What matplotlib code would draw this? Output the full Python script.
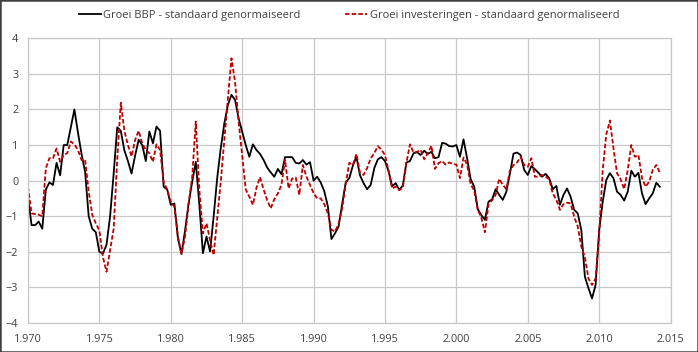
import numpy as np
import matplotlib
matplotlib.use('Agg')
import matplotlib.pyplot as plt
from matplotlib.ticker import FuncFormatter, MultipleLocator
from matplotlib.patches import Rectangle

# ---- data: quarterly, 1970Q1 .. 2014Q2 ----
start_year = 1970
gdp = [
    -0.45, -1.25, -1.25, -1.15,   # 1970
    -1.35, -0.25, -0.05, -0.12,   # 1971
    0.50, 0.15, 1.00, 1.00,       # 1972
    1.50, 2.00, 1.35, 0.75,       # 1973
    0.25, -1.00, -1.35, -1.45,    # 1974
    -2.00, -2.05, -1.80, -1.00,   # 1975
    0.20, 1.50, 1.40, 0.85,       # 1976
    0.55, 0.20, 0.70, 1.15,       # 1977
    1.00, 0.55, 1.38, 1.05,       # 1978
    1.52, 1.40, -0.17, -0.25,     # 1979
    -0.68, -0.64, -1.62, -2.06,   # 1980
    -1.40, -0.64, -0.03, 0.53,    # 1981
    -0.68, -2.04, -1.57, -1.99,   # 1982
    -1.01, 0.07, 0.91, 1.61,      # 1983
    2.13, 2.41, 2.27, 1.75,       # 1984
    1.38, 1.00, 0.67, 1.02,       # 1985
    0.86, 0.75, 0.58, 0.37,       # 1986
    0.23, 0.11, 0.33, 0.18,       # 1987
    0.66, 0.66, 0.66, 0.50,       # 1988
    0.48, 0.58, 0.45, 0.52,       # 1989
    0.00, 0.11, -0.05, -0.30,     # 1990
    -0.72, -1.64, -1.48, -1.29,   # 1991
    -0.66, -0.05, 0.07, 0.42,     # 1992
    0.67, 0.15, -0.07, -0.24,     # 1993
    -0.12, 0.35, 0.60, 0.66,      # 1994
    0.55, 0.27, -0.16, -0.07,     # 1995
    -0.26, -0.14, 0.51, 0.55,     # 1996
    0.77, 0.80, 0.72, 0.84,       # 1997
    0.75, 0.81, 0.63, 0.66,       # 1998
    1.06, 1.04, 0.97, 0.96,       # 1999
    1.00, 0.67, 1.16, 0.63,       # 2000
    0.04, -0.17, -0.80, -0.97,    # 2001
    -1.10, -0.59, -0.53, -0.24,   # 2002
    -0.40, -0.54, -0.31, 0.20,    # 2003
    0.76, 0.79, 0.72, 0.30,       # 2004
    0.16, 0.41, 0.32, 0.22,       # 2005
    0.11, 0.19, 0.07, -0.24,      # 2006
    -0.15, -0.68, -0.40, -0.22,   # 2007
    -0.45, -0.82, -0.92, -1.39,   # 2008
    -2.70, -3.02, -3.31, -2.93,   # 2009
    -1.39, -0.59, 0.02, 0.21,     # 2010
    0.07, -0.31, -0.40, -0.56,    # 2011
    -0.31, 0.28, 0.11, 0.22,      # 2012
    -0.36, -0.66, -0.50, -0.36,   # 2013
    -0.06, -0.17,                 # 2014
]
inv = [
    -0.17, -0.92, -0.94, -0.96,   # 1970
    -1.00, 0.35, 0.63, 0.63,      # 1971
    0.90, 0.53, 0.72, 0.77,       # 1972
    1.10, 1.02, 0.86, 0.58,       # 1973
    0.58, -0.30, -0.96, -1.20,    # 1974
    -1.40, -2.15, -2.56, -1.95,   # 1975
    -1.35, 0.60, 2.19, 1.40,      # 1976
    1.00, 0.68, 1.14, 1.40,       # 1977
    1.05, 0.86, 0.77, 0.53,       # 1978
    1.02, 0.86, -0.03, -0.26,     # 1979
    -0.59, -0.73, -1.57, -2.06,   # 1980
    -1.57, -0.64, 0.11, 1.66,     # 1981
    -0.26, -1.48, -1.20, -1.67,   # 1982
    -2.09, -1.05, -0.03, 1.14,    # 1983
    2.31, 3.44, 2.78, 1.66,       # 1984
    0.70, -0.25, -0.45, -0.68,    # 1985
    -0.20, 0.10, -0.25, -0.55,    # 1986
    -0.78, -0.52, -0.36, -0.12,   # 1987
    0.58, -0.22, 0.06, 0.09,      # 1988
    -0.40, 0.44, 0.11, -0.12,     # 1989
    -0.35, -0.50, -0.50, -0.66,   # 1990
    -0.92, -1.38, -1.43, -1.22,   # 1991
    -0.78, -0.10, 0.50, 0.44,     # 1992
    0.75, 0.22, 0.16, 0.35,       # 1993
    0.63, 0.77, 0.97, 0.87,       # 1994
    0.72, 0.27, -0.22, -0.17,     # 1995
    -0.27, -0.20, 0.50, 1.02,     # 1996
    0.79, 0.81, 0.86, 0.60,       # 1997
    0.77, 0.98, 0.33, 0.49,       # 1998
    0.55, 0.45, 0.51, 0.47,       # 1999
    0.45, 0.07, 0.65, 0.45,       # 2000
    -0.10, -0.28, -0.82, -1.05,   # 2001
    -1.45, -0.66, -0.55, -0.40,   # 2002
    0.05, -0.12, -0.24, 0.28,     # 2003
    0.44, 0.51, 0.67, 0.44,       # 2004
    0.39, 0.63, 0.11, 0.11,       # 2005
    0.16, 0.11, 0.04, -0.36,      # 2006
    -0.54, -0.82, -0.66, -0.62,   # 2007
    -0.64, -1.01, -1.29, -1.85,   # 2008
    -2.15, -2.75, -2.93, -2.75,   # 2009
    -1.50, 0.30, 1.30, 1.69,      # 2010
    0.91, 0.21, 0.04, -0.24,      # 2011
    0.30, 1.00, 0.67, 0.72,       # 2012
    0.07, -0.17, -0.03, 0.30,     # 2013
    0.44, 0.22,                   # 2014
]
t = start_year + np.arange(len(gdp)) / 4.0

label_gdp = 'Groei BBP - standaard genormaiseerd'
label_inv = 'Groei investeringen - standaard genormaliseerd'

plt.rcParams['font.family'] = ['Open Sans', 'DejaVu Sans']

fig = plt.figure(figsize=(6.98, 3.52), dpi=100)
ax = fig.add_axes([0.0401, 0.0824, 0.9206, 0.8088])

ax.plot(t, gdp, color='black', lw=1.3, label=label_gdp)
ax.plot(t, inv, color='#C00000', lw=1.3, ls=(0, (2.5, 1.2)), label=label_inv)

ax.set_xlim(1970, 2015)
ax.set_ylim(-4, 4)
ax.xaxis.set_major_locator(MultipleLocator(5))
ax.yaxis.set_major_locator(MultipleLocator(1))
ax.xaxis.set_major_formatter(FuncFormatter(lambda v, p: f'{int(v)//1000}.{int(v)%1000:03d}'))
ax.grid(True, color='#c8c8c8', lw=0.9)
ax.set_axisbelow(True)
for s in ax.spines.values():
    s.set_color('#c8c8c8'); s.set_linewidth(0.9)
ax.tick_params(length=0, labelsize=7.8, colors='#404040')
ax.tick_params(axis='x', pad=8)
ax.tick_params(axis='y', pad=7)

fig.legend(loc='upper center', bbox_to_anchor=(0.5, 1.0), ncol=2, frameon=False,
           fontsize=8, handlelength=2.0, columnspacing=4.0, handletextpad=0.2,
           labelcolor='#404040')

fig.patches.append(Rectangle((0, 0), 1, 1, transform=fig.transFigure, fill=False,
                             edgecolor='#404040', lw=1.8))

fig.savefig('out.png', dpi=100)
